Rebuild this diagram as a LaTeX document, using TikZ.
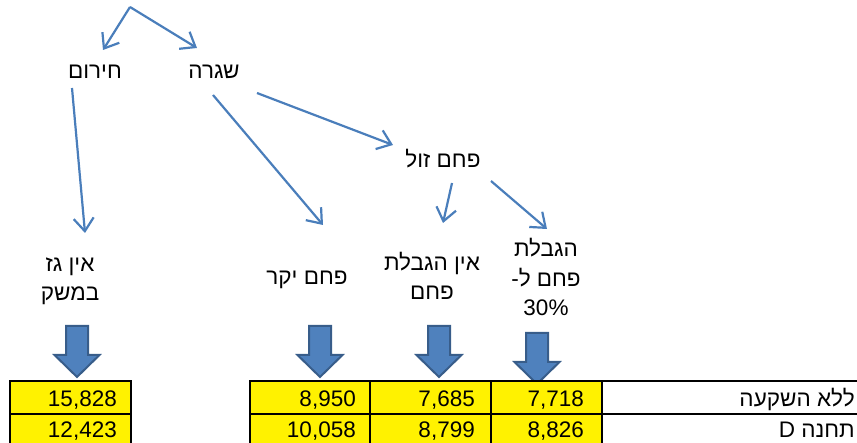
\documentclass[tikz,border=0pt]{standalone}
\usepackage{fontspec}
\setmainfont{Liberation Sans}
\newfontfamily\heb[Script=Hebrew]{Liberation Sans}
\TeXXeTstate=1
\usetikzlibrary{arrows.meta}
\definecolor{lineblue}{HTML}{4A7EBB}
\definecolor{arrowfill}{HTML}{4F81BD}
\definecolor{arrowdraw}{HTML}{385D8A}
\begin{document}
\begin{tikzpicture}[x=1pt,y=-1pt,
  conn/.style={draw=lineblue, line width=2.2pt, -{Straight Barb[length=13pt,width=20pt]}},
  lbl/.style={font=\heb\fontsize{22.5}{29.5}\selectfont, inner sep=0pt, align=center, anchor=base},
  num/.style={font=\fontsize{22.5}{26}\selectfont, inner sep=0pt, anchor=base east},
  hebcell/.style={font=\heb\fontsize{22.5}{26}\selectfont, inner sep=0pt, anchor=base east},
  ycell/.style={draw=black, line width=1.5pt, fill=yellow},
  wcell/.style={draw=black, line width=1.5pt, fill=white},
  barrow/.style={fill=arrowfill, draw=arrowdraw, line width=2pt, line join=miter},
  blockarrow/.pic={\path[barrow] (-11,0) -- (11,0) -- (11,29) -- (22.5,29) -- (0,51) -- (-22.5,29) -- (-11,29) -- cycle;}]
\useasboundingbox (0,0) rectangle (857,443);
\clip (0,0) rectangle (857,443);
% text labels (base anchor = baseline of last line)
\node[lbl] (hirum) at (95,79) {\beginR חירום\endR};
\node[lbl] (shigra) at (214,79) {\beginR שגרה\endR};
\node[lbl] (cheap) at (443,168) {\beginR פחם זול\endR};
\node[lbl] (nogas) at (70,301) {\beginR אין גז\endR\\\beginR במשק\endR};
\node[lbl] (expensive) at (307,285) {\beginR פחם יקר\endR};
\node[lbl] (nolimit) at (432,300) {\beginR אין הגבלת\endR\\\beginR פחם\endR};
\node[lbl] (limit) at (546,316) {\beginR הגבלת\endR\\\beginR פחם ל-\endR\\30\%};
% connector end points
\coordinate (top) at (130,7);
\coordinate (hirumIn) at (103,50);
\coordinate (shigraIn) at (197,48);
\coordinate (hirumOut) at (72,88);
\coordinate (nogasIn) at (85,233);
\coordinate (shigraOutA) at (213,95);
\coordinate (expensiveIn) at (323,225);
\coordinate (shigraOutB) at (257,93);
\coordinate (cheapIn) at (393,145);
\coordinate (cheapOutA) at (452,183);
\coordinate (nolimitIn) at (443,223);
\coordinate (cheapOutB) at (491,181);
\coordinate (limitIn) at (547,229);
\draw[conn] (top) -- (hirumIn);
\draw[conn] (top) -- (shigraIn);
\draw[conn] (hirumOut) -- (nogasIn);
\draw[conn] (shigraOutA) -- (expensiveIn);
\draw[conn] (shigraOutB) -- (cheapIn);
\draw[conn] (cheapOutA) -- (nolimitIn);
\draw[conn] (cheapOutB) -- (limitIn);
% block arrows
\pic (ba1) at (77,326) {blockarrow};
\pic (ba2) at (320,326) {blockarrow};
\pic (ba3) at (439,326) {blockarrow};
\pic (ba4) at (537,333) {blockarrow};
% table cells
\draw[ycell] (10,381) rectangle (131,414);
\draw[ycell] (10,414) rectangle (131,447);
\draw[ycell] (250,381) rectangle (370,414);
\draw[ycell] (250,414) rectangle (370,447);
\draw[ycell] (370,381) rectangle (491,414);
\draw[ycell] (370,414) rectangle (491,447);
\draw[ycell] (491,381) rectangle (602,414);
\draw[ycell] (491,414) rectangle (602,447);
\draw[wcell] (602,381) rectangle (880,414);
\draw[wcell] (602,414) rectangle (880,447);
% table values
\node[num] (v11) at (117,407) {15,828};
\node[num] (v21) at (117,438) {12,423};
\node[num] (v12) at (356,407) {8,950};
\node[num] (v22) at (356,438) {10,058};
\node[num] (v13) at (475,407) {7,685};
\node[num] (v23) at (475,438) {8,799};
\node[num] (v14) at (584,407) {7,718};
\node[num] (v24) at (584,438) {8,826};
\node[hebcell] (r1) at (855,407) {\beginR ללא השקעה\endR};
\node[hebcell] (r2) at (855,438) {\beginR תחנה \beginL D\endL\endR};
\end{tikzpicture}
\end{document}
